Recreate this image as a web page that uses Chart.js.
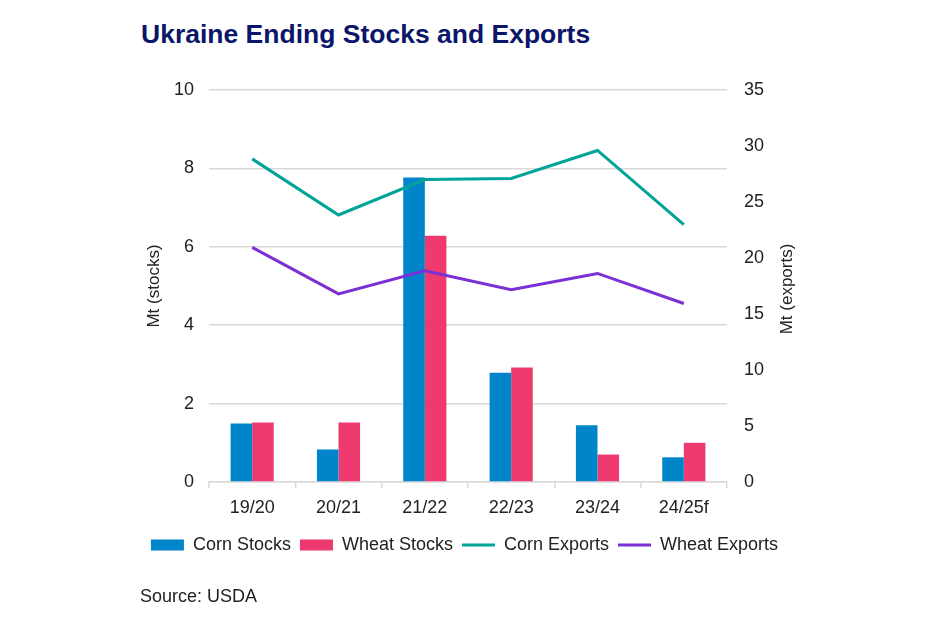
<!DOCTYPE html>
<html>
<head>
<meta charset="utf-8">
<script src="https://cdn.jsdelivr.net/npm/chart.js@4.4.0/dist/chart.umd.min.js"></script>
<style>
  html, body { margin: 0; padding: 0; background: #fff; }
  body { width: 940px; height: 627px; position: relative; overflow: hidden; font-family: "Liberation Sans", Arial, sans-serif; }
  #title { position: absolute; left: 141px; top: 21px; font-size: 26.5px; font-weight: bold; color: #0b1569; line-height: 26px; white-space: nowrap; }
  #source { position: absolute; left: 140px; top: 585px; font-size: 18px; color: #222; line-height: 22px; }
  #wrap { position: absolute; left: 0; top: 0; width: 940px; height: 627px; }
</style>
</head>
<body>
<div id="title">Ukraine Ending Stocks and Exports</div>
<div id="wrap"><canvas id="chart"></canvas></div>
<div id="source">Source: USDA</div>
<script>
// marketing years
const years = ['19/20', '20/21', '21/22', '22/23', '23/24', '24/25f'];
// ending stocks, Mt (left axis)
const cornStocks = [1.49, 0.83, 7.77, 2.79, 1.45, 0.63];
const wheatStocks = [1.52, 1.52, 6.28, 2.92, 0.70, 1.00];
// exports, Mt (right axis)
const cornExports = [28.85, 23.84, 27.0, 27.1, 29.6, 22.98];
const wheatExports = [20.95, 16.8, 18.86, 17.16, 18.62, 15.94];

const font = "'Liberation Sans', Arial, sans-serif";
const gridGrey = '#d9d9d9';
const textCol = '#222';

// right axis title reads bottom-to-top like the left one
const rightTitle = {
    id: 'rightTitle',
    afterDraw: function (chart) {
        const ctx = chart.ctx;
        const area = chart.chartArea;
        ctx.save();
        ctx.translate(787, (area.top + area.bottom) / 2 + 3);
        ctx.rotate(-Math.PI / 2);
        ctx.font = '17px ' + font;
        ctx.fillStyle = textCol;
        ctx.textAlign = 'center';
        ctx.textBaseline = 'middle';
        ctx.fillText('Mt (exports)', 0, 0);
        ctx.restore();
    }
};

let ctx = document.getElementById('chart');
let myChart = new Chart(ctx, {
    data: {
        labels: years,
        datasets: [
            { type: 'bar', label: 'Corn Stocks', data: cornStocks, backgroundColor: '#0085ca', yAxisID: 'y', order: 1 },
            { type: 'bar', label: 'Wheat Stocks', data: wheatStocks, backgroundColor: '#ee3a6f', yAxisID: 'y', order: 1 },
            { type: 'line', label: 'Corn Exports', data: cornExports, borderColor: '#00a398', backgroundColor: '#00a398', borderWidth: 3, pointRadius: 0, yAxisID: 'y1', order: 0 },
            { type: 'line', label: 'Wheat Exports', data: wheatExports, borderColor: '#7b2fd5', backgroundColor: '#7b2fd5', borderWidth: 3, pointRadius: 0, yAxisID: 'y1', order: 0 }
        ]
    },
    options: {
        responsive: true,
        maintainAspectRatio: false,
        animation: false,
        datasets: { bar: { categoryPercentage: 0.5, barPercentage: 1.0 } },
        layout: { padding: { left: 122, right: 133, top: 90, bottom: 63 } },
        plugins: {
            tooltip: { enabled: false },
            legend: {
                position: 'bottom',
                labels: {
                    usePointStyle: true,
                    pointStyleWidth: 33,
                    boxHeight: 11,
                    padding: 9,
                    color: textCol,
                    font: { family: font, size: 18 },
                    sort: (a, b) => a.datasetIndex - b.datasetIndex,
                    generateLabels: function (chart) {
                        return Chart.defaults.plugins.legend.labels.generateLabels(chart).map(l => {
                            const ds = chart.data.datasets[l.datasetIndex];
                            const isLine = ds.type === 'line';
                            l.pointStyle = isLine ? 'line' : 'rect';
                            l.lineWidth = isLine ? 3 : 0;
                            l.fillStyle = ds.backgroundColor;
                            l.strokeStyle = isLine ? ds.borderColor : ds.backgroundColor;
                            return l;
                        });
                    }
                }
            }
        },
        scales: {
            x: {
                offset: true,
                afterFit: s => { s.height = 45; },
                grid: { offset: true, drawOnChartArea: false, color: gridGrey, tickLength: 6, lineWidth: 1.5 },
                border: { display: true, color: gridGrey, width: 1.5 },
                ticks: { color: textCol, padding: 9, font: { family: font, size: 18 } }
            },
            y: {
                position: 'left',
                min: 0,
                max: 10,
                afterFit: s => { s.width = 87; },
                ticks: { stepSize: 2, color: textCol, padding: 15, font: { family: font, size: 18 } },
                grid: { color: gridGrey, lineWidth: 1.5, drawTicks: false },
                border: { display: false },
                title: { display: true, text: 'Mt (stocks)', color: textCol, font: { family: font, size: 17 }, padding: { top: 22, bottom: 4 } }
            },
            y1: {
                position: 'right',
                min: 0,
                max: 35,
                afterFit: s => { s.width = 80; },
                ticks: { stepSize: 5, color: textCol, padding: 17, font: { family: font, size: 18 } },
                grid: { drawOnChartArea: false, drawTicks: false },
                border: { display: false }
            }
        }
    },
    plugins: [rightTitle]
});
</script>
</body>
</html>
